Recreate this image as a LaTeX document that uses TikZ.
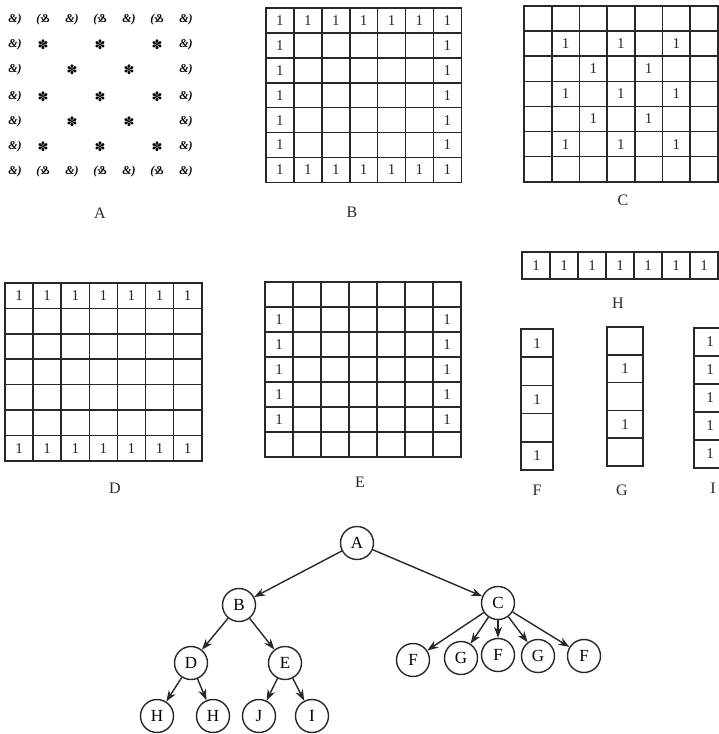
\documentclass[tikz,border=0pt]{standalone}
\usepackage{fontspec}
\setmainfont{Liberation Serif}
\newfontfamily\dejavu{DejaVu Sans}
\usetikzlibrary{arrows.meta}
\definecolor{ink}{RGB}{40,40,40}
\tikzset{
  gl/.style={line width=1.6pt, draw=ink, line cap=rect},
  mark1/.style={font=\fontsize{15}{15}\selectfont, inner sep=0pt, text=ink},
  lbl/.style={font=\fontsize{16}{16}\selectfont, inner sep=0pt, text=ink},
  motif/.style={font=\fontsize{12}{12}\selectfont\bfseries\itshape, inner sep=0pt},
  starm/.style={font=\dejavu\fontsize{13}{13}\selectfont, inner sep=0pt},
  tn/.style={circle, draw=ink, line width=1.4pt, minimum size=33pt, inner sep=0pt, font=\fontsize{17}{17}\selectfont},
  ar/.style={line width=1.4pt, draw=ink, -{Stealth[length=11pt,width=8pt,inset=3.5pt]}}
}
\newcommand\cellgrid[6]{%
  \foreach \i in {0,...,#5} \draw[gl] ({#1+\i*#3},#2) -- ({#1+\i*#3},{#2+#6*#4});
  \foreach \j in {0,...,#6} \draw[gl] (#1,{#2+\j*#4}) -- ({#1+#5*#3},{#2+\j*#4});
}
\newcommand\cellmarks[5]{% x0 y0 cw ch list of c/r
  \foreach \c/\r in {#5} \node[mark1] at ({#1+(\c+0.5)*#3},{#2+(\r+0.5)*#4}) {1};
}
\begin{document}
\begin{tikzpicture}[x=1pt,y=-1pt]
\useasboundingbox (0,0) rectangle (719,734);
\clip (0,0) rectangle (719,734);
\fill[white] (0,0) rectangle (719,734);

% ---------- A : pattern ----------
\foreach \x in {15,72,129,186}{
  \node[motif] at (\x,20) {\&)};
  \node[motif] at (\x,172) {\&)};
}
\foreach \x in {43,100,157}{
  \node[motif] at (\x,20) {(\reflectbox{\&}};
  \node[motif] at (\x,172) {(\reflectbox{\&}};
}
\foreach \y in {45,70,97,122,147}{
  \node[motif] at (15,\y) {\&)};
  \node[motif] at (186,\y) {\&)};
}
\foreach \y in {45,97,147}{
  \foreach \x in {43,100,157} \node[starm] at (\x,\y) {✽};
}
\foreach \y in {70,122}{
  \foreach \x in {72,129} \node[starm] at (\x,\y) {✽};
}
\node[lbl] (labA) at (100,213) {A};

% ---------- B ----------
\cellgrid{266}{8}{27.9}{24.9}{7}{7}
\cellmarks{266}{8}{27.9}{24.9}{0/0,1/0,2/0,3/0,4/0,5/0,6/0,0/6,1/6,2/6,3/6,4/6,5/6,6/6,0/1,0/2,0/3,0/4,0/5,6/1,6/2,6/3,6/4,6/5}
\node[lbl] (labB) at (352,212) {B};

% ---------- C ----------
\cellgrid{524}{6}{27.7}{25.1}{7}{7}
\cellmarks{524}{6}{27.7}{25.1}{1/1,3/1,5/1,2/2,4/2,1/3,3/3,5/3,2/4,4/4,1/5,3/5,5/5}
\node[lbl] (labC) at (623,200) {C};

% ---------- D ----------
\cellgrid{5}{283}{28.1}{25.4}{7}{7}
\cellmarks{5}{283}{28.1}{25.4}{0/0,1/0,2/0,3/0,4/0,5/0,6/0,0/6,1/6,2/6,3/6,4/6,5/6,6/6}
\node[lbl] (labD) at (115,488) {D};

% ---------- E ----------
\cellgrid{265}{282}{28}{25}{7}{7}
\cellmarks{265}{282}{28}{25}{0/1,0/2,0/3,0/4,0/5,6/1,6/2,6/3,6/4,6/5}
\node[lbl] (labE) at (360,482) {E};

% ---------- H ----------
\cellgrid{522}{252}{28}{27}{7}{1}
\cellmarks{522}{252}{28}{27}{0/0,1/0,2/0,3/0,4/0,5/0,6/0}
\node[lbl] (labH) at (618,303) {H};

% ---------- F ----------
\cellgrid{521}{329}{32}{28.2}{1}{5}
\cellmarks{521}{329}{32}{28.2}{0/0,0/2,0/4}
\node[lbl] (labF) at (537,490) {F};

% ---------- G ----------
\cellgrid{607}{327}{36}{27.8}{1}{5}
\cellmarks{607}{327}{36}{27.8}{0/1,0/3}
\node[lbl] (labG) at (622,490) {G};

% ---------- I ----------
\cellgrid{694}{328}{32}{28}{1}{5}
\cellmarks{694}{328}{32}{28}{0/0,0/1,0/2,0/3,0/4}
\node[lbl] (labI) at (713,488) {I};

% ---------- tree ----------
\node[tn] (tA) at (357,543) {A};
\node[tn] (tB) at (239,605) {B};
\node[tn] (tC) at (498,603) {C};
\node[tn] (tD) at (191,663) {D};
\node[tn] (tE) at (285,663) {E};
\node[tn] (tH1) at (157,716) {H};
\node[tn] (tH2) at (213,716) {H};
\node[tn] (tJ) at (259,716) {J};
\node[tn] (tI) at (312,716) {I};
\node[tn] (tF1) at (413,660) {F};
\node[tn] (tG1) at (461,658) {G};
\node[tn] (tF2) at (498,655) {F};
\node[tn] (tG2) at (538,656) {G};
\node[tn] (tF3) at (584,656) {F};

\draw[ar] (tA) -- (tB);
\draw[ar] (tA) -- (tC);
\draw[ar] (tB) -- (tD);
\draw[ar] (tB) -- (tE);
\draw[ar] (tD) -- (tH1);
\draw[ar] (tD) -- (tH2);
\draw[ar] (tE) -- (tJ);
\draw[ar] (tE) -- (tI);
\draw[ar] (tC) -- (tF1);
\draw[ar] (tC) -- (tG1);
\draw[ar] (tC) -- (tF2);
\draw[ar] (tC) -- (tG2);
\draw[ar] (tC) -- (tF3);
\end{tikzpicture}
\end{document}
